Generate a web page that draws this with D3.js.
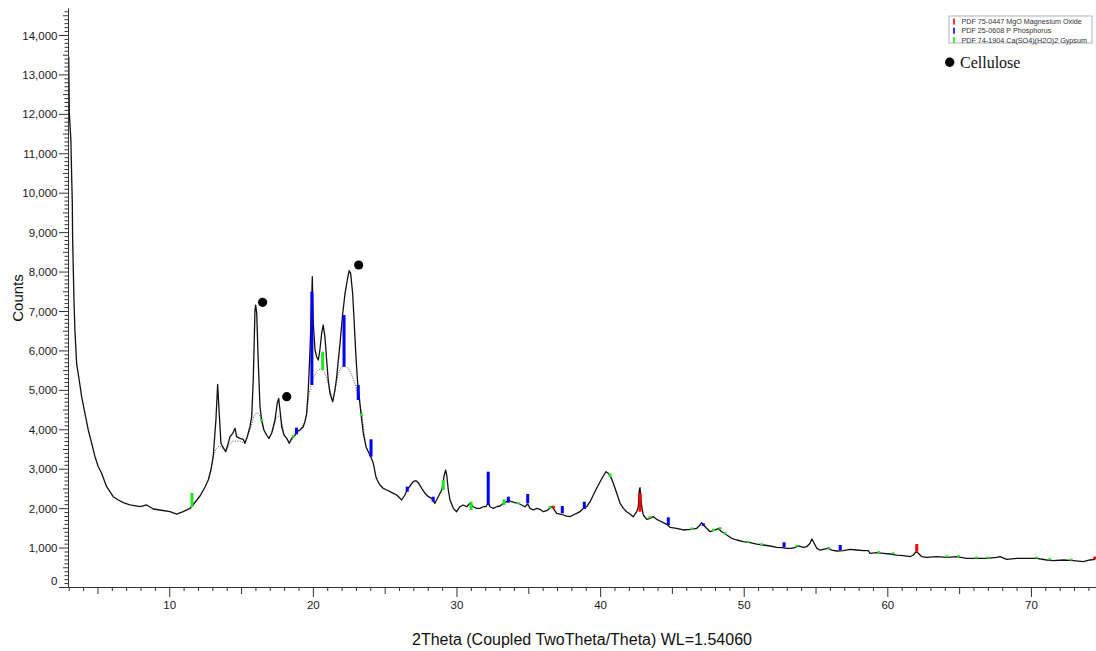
<!DOCTYPE html>
<html>
<head>
<meta charset="utf-8">
<script src="https://cdn.jsdelivr.net/npm/d3@7"></script>
<style>
  html, body { margin: 0; padding: 0; background: #fff; }
  svg { display: block; }
</style>
</head>
<body>
<svg id="chart" width="1096" height="651"></svg>
<script>
// Measured scan: 2θ (degrees) and intensity (counts)
const twoTheta = [
  3.00, 3.04, 3.15, 3.20, 3.25, 3.27, 3.31, 3.36, 3.43, 3.55, 3.73, 3.90, 4.13, 4.36, 4.60, 4.83, 5.06, 5.29, 5.64, 5.87,
  6.10, 6.45, 6.80, 7.26, 7.97, 8.43, 8.89, 9.35, 10.05, 10.52, 10.97, 11.44, 11.65, 12.14, 12.49, 12.72, 12.90, 13.06, 13.25, 13.37,
  13.48, 13.60, 13.72, 13.93, 14.11, 14.23, 14.42, 14.58, 14.69, 14.92, 15.15, 15.27, 15.43, 15.62, 15.74, 15.85, 15.97, 16.02, 16.09, 16.20,
  16.32, 16.43, 16.59, 16.78, 16.94, 17.13, 17.36, 17.52, 17.62, 17.71, 17.83, 17.99, 18.18, 18.36, 18.52, 18.68, 18.87, 19.10, 19.33, 19.45,
  19.57, 19.68, 19.80, 19.92, 19.96, 20.03, 20.15, 20.26, 20.38, 20.49, 20.61, 20.72, 20.84, 20.96, 21.07, 21.19, 21.38, 21.54, 21.66, 21.89,
  22.08, 22.24, 22.40, 22.53, 22.63, 22.77, 22.88, 23.00, 23.12, 23.23, 23.35, 23.51, 23.70, 23.86, 24.03, 24.21, 24.39, 24.48, 24.67, 24.90,
  25.14, 25.37, 25.60, 25.84, 26.07, 26.18, 26.41, 26.57, 26.76, 26.99, 27.18, 27.34, 27.58, 27.81, 28.04, 28.27, 28.50, 28.73, 28.97, 29.08,
  29.15, 29.25, 29.32, 29.43, 29.55, 29.78, 30.01, 30.24, 30.47, 30.71, 30.94, 31.17, 31.41, 31.64, 31.87, 32.05, 32.21, 32.33, 32.56, 32.80,
  33.03, 33.26, 33.50, 33.61, 33.84, 34.07, 34.30, 34.54, 34.77, 34.96, 35.12, 35.35, 35.58, 35.82, 36.04, 36.28, 36.51, 36.63, 36.74, 36.98,
  37.21, 37.44, 37.67, 37.90, 38.13, 38.37, 38.60, 38.83, 39.07, 39.30, 39.53, 39.76, 40.00, 40.22, 40.41, 40.57, 40.74, 40.92, 41.16, 41.39,
  41.62, 41.85, 42.08, 42.31, 42.55, 42.66, 42.73, 42.78, 42.90, 43.01, 43.25, 43.48, 43.71, 43.94, 44.17, 44.40, 44.64, 44.87, 45.33, 45.79,
  46.26, 46.73, 46.96, 47.07, 47.19, 47.42, 47.65, 47.88, 48.23, 48.47, 48.82, 49.16, 49.51, 49.97, 50.44, 50.91, 51.37, 51.83, 52.30, 52.65,
  52.99, 53.34, 53.57, 53.80, 54.15, 54.39, 54.62, 54.74, 54.85, 55.09, 55.31, 55.54, 55.89, 56.13, 56.48, 56.94, 57.40, 57.87, 58.33, 58.68,
  58.80, 59.26, 59.72, 60.19, 60.65, 61.11, 61.58, 61.81, 62.00, 62.16, 62.40, 62.74, 63.44, 64.14, 64.83, 65.53, 66.22, 66.92, 67.62, 67.85,
  68.31, 69.01, 69.71, 70.40, 71.10, 71.56, 72.26, 72.95, 73.65, 74.11, 74.46
];
const counts = [
  13450, 12013, 11336, 10490, 9731, 8884, 8209, 7362, 6518, 5673, 5250, 4826, 4405, 3982, 3644, 3305, 3051, 2883, 2544, 2417,
  2290, 2206, 2138, 2080, 2036, 2080, 1978, 1953, 1910, 1851, 1910, 1995, 2080, 2308, 2536, 2714, 2967, 3304, 4235, 5141,
  4405, 3644, 3558, 3431, 3644, 3812, 3898, 4024, 3812, 3770, 3745, 3644, 3812, 4065, 4318, 5250, 7024, 7151, 6941, 5673,
  4572, 4235, 3982, 3855, 3770, 3898, 4235, 4659, 4785, 4489, 4065, 3855, 3770, 3644, 3770, 3812, 3938, 3982, 4065, 4192,
  4405, 4996, 6010, 7278, 7869, 6687, 6010, 5840, 5757, 6010, 6434, 6644, 6348, 5757, 5250, 4912, 4699, 4996, 5333, 6180,
  6941, 7448, 7786, 8022, 7955, 7448, 6687, 5840, 5166, 4826, 4405, 3898, 3558, 3431, 3305, 3137, 2797, 2714, 2587, 2503,
  2460, 2417, 2376, 2333, 2249, 2206, 2333, 2460, 2561, 2670, 2696, 2645, 2503, 2376, 2290, 2249, 2123, 2290, 2460, 2670,
  2840, 2967, 2840, 2460, 2206, 1995, 1910, 2036, 2080, 2036, 2123, 2036, 1995, 1995, 2036, 2036, 2130, 2036, 1995, 2036,
  2054, 2123, 2163, 2206, 2163, 2138, 2123, 2080, 2036, 2105, 1995, 1953, 1995, 1970, 1910, 1935, 1995, 2036, 1995, 1868,
  1851, 1826, 1800, 1783, 1826, 1868, 1910, 1995, 2036, 2163, 2333, 2503, 2670, 2815, 2924, 2883, 2797, 2630, 2376, 2123,
  1995, 1910, 1851, 1783, 1910, 2036, 2460, 2518, 2036, 1826, 1717, 1742, 1783, 1717, 1674, 1631, 1590, 1514, 1488, 1446,
  1463, 1488, 1572, 1631, 1572, 1488, 1403, 1428, 1479, 1403, 1319, 1235, 1192, 1149, 1124, 1090, 1065, 1040, 1007, 997,
  981, 981, 1007, 1040, 1007, 1022, 1108, 1217, 1149, 981, 938, 956, 981, 938, 913, 921, 956, 938, 921, 921,
  855, 870, 855, 837, 811, 794, 768, 811, 895, 855, 768, 753, 768, 753, 768, 728, 728, 728, 753, 768,
  702, 728, 728, 728, 685, 667, 685, 667, 642, 685, 702
];

// Amorphous (cellulose) background fit under the 13–24° humps
const bgTheta = [
  12.72, 12.90, 13.06, 13.25, 13.46, 13.72, 13.93, 14.11, 14.42, 14.92, 15.27, 15.48, 15.74, 15.90, 16.09, 16.25, 16.43, 16.59, 16.78, 16.94,
  17.22, 17.43, 17.59, 17.78, 17.99, 18.18, 18.36, 18.68, 19.10, 19.45, 19.57, 19.73, 19.87, 20.03, 20.22, 20.38, 20.61, 20.84, 21.07, 21.31,
  21.38, 21.54, 21.77, 22.00, 22.23, 22.47, 22.70, 22.93, 23.16, 23.40, 23.70, 24.03
];
const bgCounts = [
  2714, 2967, 3304, 3500, 3576, 3525, 3431, 3560, 3700, 3700, 3644, 3830, 4134, 4336, 4420, 4387, 4235, 3982, 3855, 3770,
  3982, 4286, 4336, 4286, 3855, 3770, 3644, 3800, 3960, 4192, 4405, 4869, 5123, 5300, 5427, 5503, 5546, 5420, 5166, 4826,
  4699, 4996, 5420, 5587, 5604, 5546, 5376, 5166, 4826, 4405, 3558, 3305
];

// Reference pattern sticks: [2θ, lower count, upper count]
const mgoSticks = [
  [36.74, 1990, 2060], [42.78, 1910, 2376], [62.05, 895, 1090], [74.45, 700, 770]
];
const phosphorusSticks = [
  [18.86, 3871, 4041], [19.93, 5123, 7489], [22.17, 5587, 6898], [23.16, 4742, 5123], [24.05, 3305, 3746],
  [26.57, 2417, 2544], [28.38, 2163, 2290], [32.21, 2080, 2924], [33.61, 2138, 2290], [34.96, 2123, 2358],
  [37.37, 1868, 2054], [38.90, 1978, 2163], [44.75, 1572, 1768], [47.19, 1547, 1615], [52.81, 1007, 1134],
  [56.72, 938, 1065]
];
const gypsumSticks = [
  [11.58, 2030, 2384], [16.43, 4200, 4260], [18.63, 3790, 3850], [20.68, 5503, 5967], [23.38, 4330, 4400],
  [29.08, 2460, 2714], [31.02, 1953, 2163], [33.31, 2080, 2224], [34.30, 2100, 2150], [36.50, 1990, 2050],
  [40.69, 2790, 2880], [43.48, 1740, 1800], [46.40, 1450, 1510], [47.90, 1420, 1480], [48.35, 1460, 1520],
  [48.70, 1330, 1390], [50.30, 1120, 1170], [51.25, 1060, 1110], [53.70, 1020, 1070], [55.90, 970, 1020],
  [59.40, 860, 910], [60.40, 830, 880], [64.14, 750, 800], [64.95, 760, 810], [66.20, 720, 770],
  [67.00, 720, 770], [70.40, 720, 770], [71.30, 680, 730], [72.80, 670, 720]
];

// Cellulose reflections marked with dots: [2θ, counts]
const cellulosePeaks = [[16.50, 7220], [18.18, 4826], [23.19, 8166]];

const legendLabels = [
  "PDF 75-0447 MgO Magnesium Oxide",
  "PDF 25-0608 P Phosphorus",
  "PDF 74-1904 Ca(SO4)(H2O)2 Gypsum"
];
const celluloseLabel = "Cellulose";

const xTickValues = [10, 20, 30, 40, 50, 60, 70];
const yTickValues = [0, 1000, 2000, 3000, 4000, 5000, 6000, 7000, 8000, 9000, 10000, 11000, 12000, 13000, 14000];
const xTitle = "2Theta (Coupled TwoTheta/Theta) WL=1.54060";
const yTitle = "Counts";

// ---------- drawing ----------
const svg = d3.select("#chart");
const sans = "'Liberation Sans', Arial, Helvetica, sans-serif";
const serif = "'Liberation Serif', 'Times New Roman', serif";
const phaseColors = ["#ff0000", "#0000ff", "#22e622"];

const x = d3.scaleLinear().domain([2.95, 74.53]).range([68, 1096]);
const y = d3.scaleLinear().domain([0, 14684]).range([587, 8]);

// background fit (dotted)
const bgLine = d3.line().x((d, i) => x(bgTheta[i])).y(d => y(d));
svg.append("path")
  .datum(bgCounts)
  .attr("d", bgLine)
  .attr("fill", "none")
  .attr("stroke", "#555")
  .attr("stroke-width", 0.9)
  .attr("stroke-dasharray", "1.2,1.3");

// measured scan
const scanLine = d3.line().x((d, i) => x(twoTheta[i])).y(d => y(d));
svg.append("path")
  .datum(counts)
  .attr("d", scanLine)
  .attr("fill", "none")
  .attr("stroke", "#111")
  .attr("stroke-width", 1.3)
  .attr("stroke-linejoin", "round");

// reference sticks
[mgoSticks, phosphorusSticks, gypsumSticks].forEach((rows, k) => {
  svg.append("g").selectAll("rect")
    .data(rows)
    .join("rect")
    .attr("x", d => x(d[0]) - 1.5)
    .attr("width", 3)
    .attr("y", d => y(d[2]))
    .attr("height", d => y(d[1]) - y(d[2]))
    .attr("fill", phaseColors[k]);
});

// cellulose dots
svg.append("g").selectAll("circle")
  .data(cellulosePeaks)
  .join("circle")
  .attr("cx", d => x(d[0]))
  .attr("cy", d => y(d[1]))
  .attr("r", 4.6)
  .attr("fill", "#000");

// ---------- axes ----------
const axisColor = "#333";

function styleAxis(g) {
  g.selectAll("path, line").attr("stroke", axisColor).attr("stroke-width", 1);
  g.selectAll("text").attr("fill", "#1a1a1a").style("font-family", sans).style("font-size", "11.5px");
}

// x axis: minor every 1°, medium every 5°, major every 10°
const xMinor = d3.range(3, 75, 1).filter(v => v % 5 !== 0);
const xMid = d3.range(5, 75, 5).filter(v => v % 10 !== 0);
const gx = svg.append("g").attr("transform", "translate(0,587)");
gx.append("g").call(d3.axisBottom(x).tickValues(xMinor).tickSize(4).tickSizeOuter(0).tickFormat(""))
  .call(styleAxis);
gx.append("g").call(d3.axisBottom(x).tickValues(xMid).tickSize(7).tickSizeOuter(0).tickFormat(""))
  .call(g => g.select(".domain").remove()).call(styleAxis);
gx.append("g").call(d3.axisBottom(x).tickValues(xTickValues).tickSize(10).tickSizeOuter(0).tickFormat(d3.format("d")))
  .call(g => g.select(".domain").remove()).call(styleAxis)
  .call(g => g.selectAll("text").attr("y", 21.5).attr("dy", null));

// y axis: minor every 100, medium every 500, major every 1000
const yMinor = d3.range(0, 14700, 100).filter(v => v % 500 !== 0);
const yMid = d3.range(500, 14700, 1000);
const gy = svg.append("g").attr("transform", "translate(68,0)");
gy.append("g").call(d3.axisLeft(y).tickValues(yMinor).tickSize(3.5).tickSizeOuter(0).tickFormat(""))
  .call(styleAxis);
gy.append("g").call(d3.axisLeft(y).tickValues(yMid).tickSize(5).tickSizeOuter(0).tickFormat(""))
  .call(g => g.select(".domain").remove()).call(styleAxis);
gy.append("g").call(d3.axisLeft(y).tickValues(yTickValues).tickSize(9).tickSizeOuter(0).tickFormat(d3.format(",")))
  .call(g => g.select(".domain").remove()).call(styleAxis)
  .call(g => g.selectAll("text").attr("x", -10.5).attr("dy", "0.36em"))
  .call(g => g.selectAll(".tick").filter(d => d === 0).select("text").attr("dy", "-0.22em"));

// axis titles
svg.append("text")
  .attr("x", 582).attr("y", 645)
  .attr("text-anchor", "middle")
  .style("font-family", sans).style("font-size", "16px")
  .attr("fill", "#111")
  .text(xTitle);

svg.append("text")
  .attr("transform", "translate(23,298) rotate(-90)")
  .attr("text-anchor", "middle")
  .style("font-family", sans).style("font-size", "15px")
  .attr("fill", "#111")
  .text(yTitle);

// ---------- legend ----------
const lg = svg.append("g");
lg.append("rect")
  .attr("x", 949).attr("y", 16).attr("width", 143).attr("height", 27)
  .attr("fill", "#fff").attr("stroke", "#a9b3c9").attr("stroke-width", 1);
legendLabels.forEach((label, i) => {
  const by = 24 + i * 9.3;
  lg.append("line")
    .attr("x1", 954).attr("x2", 954)
    .attr("y1", by - 5.5).attr("y2", by + 0.5)
    .attr("stroke", phaseColors[i]).attr("stroke-width", 1.6);
  lg.append("text")
    .attr("x", 961.5).attr("y", by)
    .style("font-family", sans).style("font-size", "7.2px")
    .attr("fill", "#333")
    .text(label);
});

lg.append("circle").attr("cx", 949.7).attr("cy", 62.2).attr("r", 4.7).attr("fill", "#000");
lg.append("text")
  .attr("x", 960).attr("y", 67.5)
  .style("font-family", serif).style("font-size", "16px")
  .attr("fill", "#111")
  .text(celluloseLabel);
</script>
</body>
</html>
